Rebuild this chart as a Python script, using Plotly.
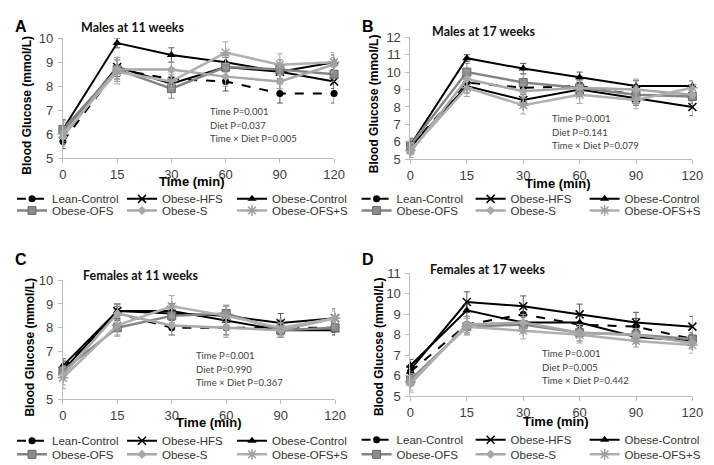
import plotly.graph_objects as go

# ---------------- data ----------------
time_labels = ["0", "15", "30", "60", "90", "120"]
time_index = [0, 1, 2, 3, 4, 5]
series_names = ["Lean-Control", "Obese-HFS", "Obese-Control", "Obese-OFS", "Obese-S", "Obese-OFS+S"]

# Panel A: Males at 11 weeks
a_lean = [5.7, 8.7, 8.3, 8.2, 7.7, 7.7]
a_hfs = [6.0, 8.8, 8.1, 8.8, 8.6, 8.2]
a_ctrl = [6.2, 9.8, 9.3, 9.0, 8.6, 9.0]
a_ofs = [6.2, 8.7, 7.9, 8.8, 8.7, 8.5]
a_s = [5.9, 8.7, 8.7, 8.4, 8.2, 8.9]
a_ofss = [6.0, 8.6, 8.2, 9.4, 8.9, 9.0]
a_lean_err = [0.3, 0.4, 0.3, 0.4, 0.4, 0.4]
a_hfs_err = [0.3, 0.4, 0.3, 0.4, 0.3, 0.3]
a_ctrl_err = [0.4, 0.2, 0.3, 0.3, 0.3, 0.3]
a_ofs_err = [0.4, 0.5, 0.4, 0.4, 0.4, 0.3]
a_s_err = [0.3, 0.5, 0.3, 0.4, 0.3, 0.3]
a_ofss_err = [0.5, 0.5, 0.3, 0.45, 0.45, 0.4]

# Panel B: Males at 17 weeks
b_lean = [5.7, 9.4, 9.1, 9.2, 8.7, 8.6]
b_hfs = [5.7, 9.2, 8.4, 9.0, 8.5, 8.0]
b_ctrl = [5.8, 10.8, 10.2, 9.7, 9.2, 9.2]
b_ofs = [5.8, 10.0, 9.4, 9.1, 8.7, 8.6]
b_s = [5.4, 9.6, 8.9, 9.1, 9.0, 8.7]
b_ofss = [5.5, 9.1, 8.1, 8.7, 8.4, 9.1]
b_lean_err = [0.4, 0.4, 0.4, 0.4, 0.4, 0.4]
b_hfs_err = [0.3, 0.4, 0.4, 0.4, 0.4, 0.5]
b_ctrl_err = [0.4, 0.2, 0.3, 0.3, 0.3, 0.3]
b_ofs_err = [0.4, 0.5, 0.5, 0.4, 0.5, 0.4]
b_s_err = [0.3, 0.5, 0.4, 0.4, 0.6, 0.4]
b_ofss_err = [0.4, 0.5, 0.5, 0.5, 0.5, 0.4]

# Panel C: Females at 11 weeks
c_lean = [6.3, 8.6, 8.0, 8.0, 8.0, 8.0]
c_hfs = [6.2, 8.7, 8.6, 8.5, 8.2, 8.4]
c_ctrl = [6.4, 8.7, 8.7, 8.3, 7.9, 7.9]
c_ofs = [6.2, 8.0, 8.5, 8.6, 7.9, 8.0]
c_s = [6.0, 8.6, 8.1, 8.0, 7.9, 8.4]
c_ofss = [5.9, 8.1, 8.9, 8.5, 8.0, 8.4]
c_lean_err = [0.3, 0.3, 0.3, 0.3, 0.3, 0.2]
c_hfs_err = [0.3, 0.3, 0.4, 0.4, 0.4, 0.4]
c_ctrl_err = [0.3, 0.3, 0.3, 0.3, 0.3, 0.2]
c_ofs_err = [0.4, 0.35, 0.4, 0.35, 0.3, 0.3]
c_s_err = [0.4, 0.4, 0.4, 0.4, 0.3, 0.3]
c_ofss_err = [0.45, 0.4, 0.45, 0.4, 0.35, 0.4]

# Panel D: Females at 17 weeks
d_lean = [6.2, 8.5, 9.0, 8.5, 8.4, 7.8]
d_hfs = [6.3, 9.6, 9.4, 9.0, 8.6, 8.4]
d_ctrl = [6.5, 9.2, 8.6, 8.6, 7.9, 7.7]
d_ofs = [5.8, 8.4, 8.5, 8.1, 8.0, 7.8]
d_s = [5.6, 8.5, 8.6, 8.1, 8.0, 7.6]
d_ofss = [5.7, 8.4, 8.2, 8.0, 7.7, 7.5]
d_lean_err = [0.3, 0.4, 0.4, 0.4, 0.4, 0.3]
d_hfs_err = [0.3, 0.5, 0.5, 0.5, 0.5, 0.5]
d_ctrl_err = [0.3, 0.3, 0.3, 0.3, 0.3, 0.3]
d_ofs_err = [0.3, 0.4, 0.4, 0.4, 0.3, 0.3]
d_s_err = [0.4, 0.4, 0.4, 0.4, 0.3, 0.3]
d_ofss_err = [0.4, 0.4, 0.4, 0.4, 0.3, 0.4]

panel_titles = ["Males at 11 weeks", "Males at 17 weeks", "Females at 11 weeks", "Females at 17 weeks"]
panel_letters = ["A", "B", "C", "D"]
stats_texts = [
    ["Time P=0.001", "Diet P=0.037", "Time \u00d7 Diet P=0.005"],
    ["Time P=0.001", "Diet P=0.141", "Time \u00d7 Diet P=0.079"],
    ["Time P=0.001", "Diet P=0.990", "Time \u00d7 Diet P=0.367"],
    ["Time P=0.001", "Diet P=0.005", "Time \u00d7 Diet P=0.442"],
]
y_ranges = [[5, 10], [5, 12], [5, 10], [5, 11]]

panel_values = [
    [a_lean, a_hfs, a_ctrl, a_ofs, a_s, a_ofss],
    [b_lean, b_hfs, b_ctrl, b_ofs, b_s, b_ofss],
    [c_lean, c_hfs, c_ctrl, c_ofs, c_s, c_ofss],
    [d_lean, d_hfs, d_ctrl, d_ofs, d_s, d_ofss],
]
panel_errors = [
    [a_lean_err, a_hfs_err, a_ctrl_err, a_ofs_err, a_s_err, a_ofss_err],
    [b_lean_err, b_hfs_err, b_ctrl_err, b_ofs_err, b_s_err, b_ofss_err],
    [c_lean_err, c_hfs_err, c_ctrl_err, c_ofs_err, c_s_err, c_ofss_err],
    [d_lean_err, d_hfs_err, d_ctrl_err, d_ofs_err, d_s_err, d_ofss_err],
]

# ---------------- styles ----------------
W, H = 714, 465
styles = [
    dict(line=dict(color="#000000", width=2, dash="dash"),
         marker=dict(symbol="circle", size=7, color="#000000"), err="#555555"),
    dict(line=dict(color="#000000", width=2),
         marker=dict(symbol="x-thin-open", size=8, color="#000000", line=dict(width=1.5, color="#000000")), err="#555555"),
    dict(line=dict(color="#000000", width=2),
         marker=dict(symbol="triangle-up", size=8, color="#000000"), err="#555555"),
    dict(line=dict(color="#858585", width=2.5),
         marker=dict(symbol="square", size=8, color="#8c8c8c", line=dict(width=1, color="#6a6a6a")), err="#8a8a8a"),
    dict(line=dict(color="#a8a8a8", width=2.5),
         marker=dict(symbol="diamond", size=7, color="#a8a8a8"), err="#a0a0a0"),
    dict(line=dict(color="#b0b0b0", width=2.5),
         marker=dict(symbol="asterisk-open", size=9, color="#a0a0a0", line=dict(width=1.5, color="#a0a0a0")), err="#a8a8a8"),
]

# pixel layout (left, right, top, bottom of plot area)
boxes = [(52, 329, 24, 148), (407, 695, 23, 149), (52, 330, 274, 397), (407, 695, 267, 394)]
legend_pos = [(0, 190, 202, 65), (352, 190, 202, 69), (0, 440, 454, 65), (352, 439, 454, 69)]
letter_pos = [(9, 12), (364, 12), (9, 253), (364, 253)]
title_pos = [(68, 13), (427, 17), (70, 269), (425, 263)]
stats_pos = [(200, 100), (550, 107), (186, 352), (539, 350)]
xtitle_pos = [(184, 172), (558, 174), (201, 421), (556, 420)]
ytitle_pos = [(15, 93), (370, 92), (18, 343), (375, 343)]

def px(x):
    return x / W

def py(y):
    return 1 - y / H

fig = go.Figure()
layout = dict(width=W, height=H, margin=dict(l=0, r=0, t=0, b=0),
              paper_bgcolor="white", plot_bgcolor="white", showlegend=True)
annotations = []

axis_common = dict(showline=True, linecolor="#bdbdbd", linewidth=1, showgrid=False, zeroline=False,
                   ticks="outside", ticklen=4, tickcolor="#bdbdbd",
                   tickfont=dict(family="Liberation Sans, Arial", size=13, color="#404040"))

for p in range(4):
    sfx = "" if p == 0 else str(p + 1)
    l, r, t, b = boxes[p]
    layout["xaxis" + sfx] = dict(axis_common, domain=[px(l), px(r)], range=[0, 5],
                                 tickmode="array", tickvals=time_index, ticktext=time_labels,
                                 anchor="y" + sfx)
    layout["yaxis" + sfx] = dict(axis_common, domain=[py(b), py(t)], range=y_ranges[p], dtick=1,
                                 anchor="x" + sfx, ticklabelstandoff=2)
    lx, ly1, ly2, ew = legend_pos[p]
    leg1 = "legend" if p == 0 else "legend" + str(2 * p + 1)
    leg2 = "legend" + str(2 * p + 2)
    for name_leg, yy in ((leg1, ly1), (leg2, ly2)):
        layout[name_leg] = dict(orientation="h", x=px(lx), y=py(yy), xanchor="left", yanchor="middle",
                                entrywidth=ew, entrywidthmode="pixels", itemwidth=30,
                                bgcolor="rgba(0,0,0,0)", borderwidth=0,
                                font=dict(family="Liberation Sans, Arial", size=11.5, color="#333333"))
    for k in range(6):
        st = styles[k]
        fig.add_trace(go.Scatter(
            x=time_index, y=panel_values[p][k], name=series_names[k], mode="lines+markers",
            line=st["line"], marker=st["marker"],
            error_y=dict(type="data", array=panel_errors[p][k], color=st["err"], thickness=1, width=3),
            xaxis="x" + sfx, yaxis="y" + sfx, cliponaxis=False,
            legend=leg1 if k < 3 else leg2, showlegend=True,
            legendwidth=(90 if k % 3 == 2 else ew),
        ))
    annotations.append(dict(text="<b>%s</b>" % panel_letters[p], x=px(letter_pos[p][0]), y=py(letter_pos[p][1]),
                            xref="paper", yref="paper", xanchor="center", yanchor="middle", showarrow=False,
                            font=dict(family="Liberation Sans, Arial", size=16, color="#000000")))
    annotations.append(dict(text="<b>%s</b>" % panel_titles[p], x=px(title_pos[p][0]), y=py(title_pos[p][1]),
                            xref="paper", yref="paper", xanchor="left", yanchor="middle", showarrow=False,
                            font=dict(family="Lato", size=12.5, color="#111111")))
    sx, sy = stats_pos[p]
    for i, line in enumerate(stats_texts[p]):
        annotations.append(dict(text=line, x=px(sx), y=py(sy + 14 * i), xref="paper", yref="paper",
                                xanchor="left", yanchor="middle", showarrow=False,
                                font=dict(family="Lato", size=9.5, color="#404040")))
    annotations.append(dict(text="<b>Time (min)</b>", x=px(xtitle_pos[p][0]), y=py(xtitle_pos[p][1]),
                            xref="paper", yref="paper", xanchor="center", yanchor="middle", showarrow=False,
                            font=dict(family="Liberation Sans, Arial", size=13, color="#000000")))
    annotations.append(dict(text="<b>Blood Glucose (mmol/L)</b>", x=px(ytitle_pos[p][0]), y=py(ytitle_pos[p][1]),
                            xref="paper", yref="paper", xanchor="center", yanchor="middle", showarrow=False,
                            textangle=-90,
                            font=dict(family="Liberation Sans, Arial", size=12, color="#000000")))

layout["annotations"] = annotations
fig.update_layout(**layout)
fig.write_html("out.html")
